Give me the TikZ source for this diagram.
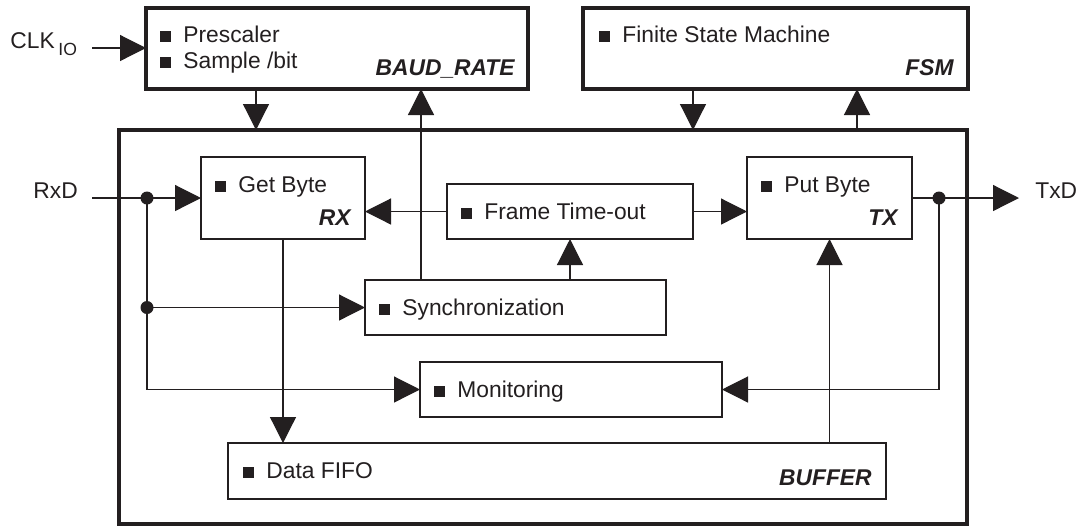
\documentclass[tikz,border=0pt]{standalone}
\usepackage{fontspec}
\setmainfont{Liberation Sans}
\usetikzlibrary{arrows.meta,calc}
\definecolor{ink}{RGB}{35,31,32}
\definecolor{wire}{RGB}{55,55,55}
\newcommand{\mybul}{\makebox[11.5pt][l]{\rule{5.5pt}{5.5pt}}}
\begin{document}
\begin{tikzpicture}[x=0.5pt,y=-0.5pt,
  box/.style={draw=ink,line width=1.4pt,anchor=north west,inner sep=0pt,outer sep=0pt,fill=white},
  bigbox/.style={box,line width=1.65pt},
  wireln/.style={draw=wire,line width=0.6pt},
  arr/.style={wireln,-{Triangle[length=13pt,width=13pt]},color=ink},
  txt/.style={font=\fontsize{11.4pt}{13pt}\selectfont,inner sep=0pt,anchor=base west,text=ink},
  lbl/.style={font=\fontsize{11.4pt}{13pt}\selectfont\bfseries\itshape,inner sep=0pt,anchor=base east,text=ink},
  jdot/.style={circle,fill=ink,inner sep=0pt,minimum size=6.5pt}]
\useasboundingbox (0,0) rectangle (1092,527);
% boxes
\node[bigbox,minimum width=191pt,minimum height=40.5pt] (baud) at (146,8) {};
\node[bigbox,minimum width=192.5pt,minimum height=40.5pt] (fsm) at (583,8) {};
\node[bigbox,minimum width=424pt,minimum height=197pt] (outer) at (119,130) {};
\node[box,minimum width=82pt,minimum height=41pt] (rx) at (201,157) {};
\node[box,minimum width=123pt,minimum height=27.5pt] (ft) at (447,184) {};
\node[box,minimum width=82.5pt,minimum height=41pt] (tx) at (747,157) {};
\node[box,minimum width=150.5pt,minimum height=27.5pt] (sync) at (365,280) {};
\node[box,minimum width=151pt,minimum height=27.5pt] (mon) at (420,362) {};
\node[box,minimum width=329pt,minimum height=28pt] (buf) at (228,443) {};
% box texts
\node[txt] (baudt1) at ($(baud.north west)+(14,34)$) {\mybul Prescaler};
\node[txt] (baudt2) at ($(baud.north west)+(14,60)$) {\mybul Sample /bit};
\node[lbl] (baudl) at ($(baud.south east)+(-13,-14)$) {BAUD\_RATE};
\node[txt] (fsmt) at ($(fsm.north west)+(16,34)$) {\mybul Finite State Machine};
\node[lbl] (fsml) at ($(fsm.south east)+(-14,-14)$) {FSM};
\node[txt] (rxt) at ($(rx.north west)+(14,35)$) {\mybul Get Byte};
\node[lbl] (rxl) at ($(rx.south east)+(-14,-14)$) {RX};
\node[txt] (ftt) at ($(ft.north west)+(14,35)$) {\mybul Frame Time-out};
\node[txt] (txt1) at ($(tx.north west)+(14,35)$) {\mybul Put Byte};
\node[lbl] (txl) at ($(tx.south east)+(-14,-14)$) {TX};
\node[txt] (synct) at ($(sync.north west)+(14,35)$) {\mybul Synchronization};
\node[txt] (mont) at ($(mon.north west)+(14,35)$) {\mybul Monitoring};
\node[txt] (buft) at ($(buf.north west)+(15,35)$) {\mybul Data FIFO};
\node[lbl] (bufl) at ($(buf.south east)+(-14,-14)$) {BUFFER};
% outside labels
\node[txt] (clk) at (10,48) {CLK};
\node[txt,font=\fontsize{8.8pt}{10pt}\selectfont] (clkio) at (58,55) {IO};
\node[txt] (rxd) at (33,198) {RxD};
\node[txt] (txd) at (1035,198) {TxD};
% coordinates
\coordinate (clkin) at (92,48);
\coordinate (rxin) at (92,198);
\coordinate (txout) at (1019,198);
\coordinate (j1) at (147,198);
\coordinate (j3) at (939,198);
% connectors
\draw[arr] (clkin) -- (clkin -| baud.west);
\draw[arr] ($(baud.south west)+(110,0)$) coordinate (b1) -- (b1 |- outer.north);
\draw[arr] ($(sync.north west)+(56,0)$) coordinate (s1) -- (s1 |- baud.south);
\draw[arr] ($(fsm.south west)+(110,0)$) coordinate (f1) -- (f1 |- outer.north);
\draw[arr] ($(fsm.south west)+(274,0)$) coordinate (f2) ++(0,41) -- (f2);
\draw[arr] (rxin) -- (rxin -| rx.west);
\draw[arr] (j1) |- (mon.west);
\draw[arr] (j1 |- sync.west) -- (sync.west);
\draw[arr] ($(rx.south west)+(82,0)$) coordinate (r1) -- (r1 |- buf.north);
\draw[arr] (ft.west) -- (ft.west -| rx.east);
\draw[arr] (ft.east) -- (ft.east -| tx.west);
\draw[arr] ($(sync.north west)+(205,0)$) coordinate (s2) -- (s2 |- ft.south);
\draw[arr] (tx.east) -- (txout);
\draw[arr] (j3) |- (mon.east);
\draw[arr] (tx.south |- buf.north) -- (tx.south);
\node[jdot] (d1) at (j1) {};
\node[jdot] (d2) at (j1 |- sync.west) {};
\node[jdot] (d3) at (j3) {};
\end{tikzpicture}
\end{document}
